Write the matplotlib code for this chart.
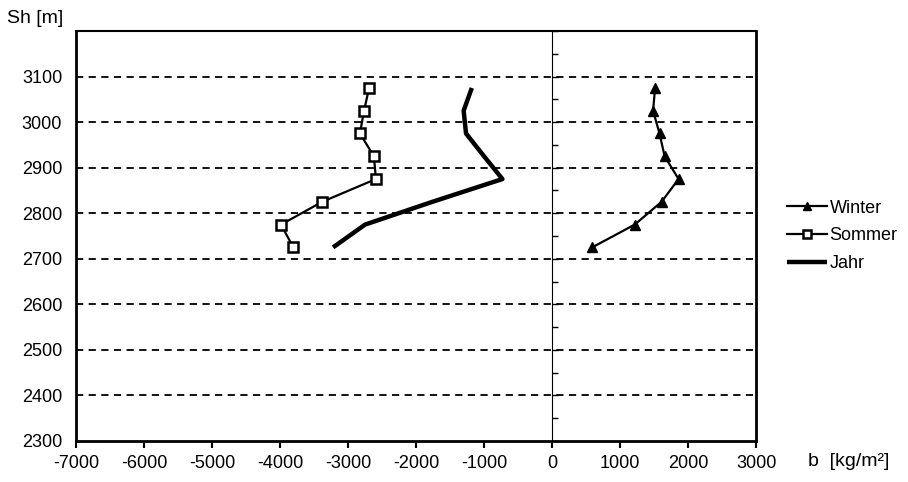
import numpy as np
import matplotlib
matplotlib.use("Agg")
import matplotlib.pyplot as plt
from matplotlib.ticker import MultipleLocator, NullFormatter

plt.rcParams['font.family'] = ['Liberation Sans', 'DejaVu Sans']
plt.rcParams['axes.unicode_minus'] = False

# Hoehenstufen (Mitte der 50-m-Stufen)
hoehe   = [3075, 3025, 2975, 2925, 2875, 2825, 2775, 2725]
winter  = [1515, 1485, 1580, 1655, 1860, 1610, 1215, 590]
sommer  = [-2690, -2765, -2825, -2620, -2590, -3380, -3985, -3805]
jahr    = [-1180, -1300, -1265, -1000, -730, -1760, -2750, -3220]

xticks = [-7000, -6000, -5000, -4000, -3000, -2000, -1000, 0, 1000, 2000, 3000]
yticks = [2300, 2400, 2500, 2600, 2700, 2800, 2900, 3000, 3100]

fig = plt.figure(figsize=(9.08, 4.82), dpi=100)
ax = fig.add_axes([0.0837, 0.0851, 0.749, 0.8506])

ax.set_xlim(-7000, 3000)
ax.set_ylim(2300, 3200)

# gestrichelte Gitterlinien
for y in yticks[1:]:
    ax.axhline(y, color='black', lw=1.3, ls=(0, (4, 3)), zorder=1)

ax.plot(winter, hoehe, color='black', lw=1.6, marker='^', ms=7.5,
        mfc='black', mec='black', label='Winter', zorder=3)
ax.plot(sommer, hoehe, color='black', lw=1.6, marker='s', ms=6.5,
        mfc='white', mec='black', mew=1.8, label='Sommer', zorder=3)
ax.plot(jahr, hoehe, color='black', lw=3.2, solid_capstyle='butt', label='Jahr', zorder=3)

ax.set_xticks(xticks)
ax.set_yticks(yticks)
ax.tick_params(axis='x', direction='out', length=5, width=1.5, labelsize=13, pad=5)
ax.tick_params(axis='y', length=0, labelsize=13, pad=10)
for s in ax.spines.values():
    s.set_linewidth(2)
ax.spines['top'].set_linewidth(1.5)

# y-Achse kreuzt bei b = 0
sec = ax.secondary_yaxis(0.7)
sec.spines['left'].set_linewidth(1)
sec.yaxis.set_major_locator(MultipleLocator(100))
sec.yaxis.set_minor_locator(MultipleLocator(50))
sec.yaxis.set_major_formatter(NullFormatter())
sec.yaxis.set_minor_formatter(NullFormatter())
sec.tick_params(which='both', direction='out', length=4, width=1)

fig.text(0.008, 0.962, 'Sh [m]', fontsize=14, ha='left', va='center')
fig.text(0.89, 0.042, 'b  [kg/m²]', fontsize=14, ha='left', va='center')

ax.legend(loc='center left', bbox_to_anchor=(1.035, 0.5), frameon=False,
          fontsize=13, handlelength=2.2, handletextpad=0.15, labelspacing=0.6,
          borderaxespad=0, markerscale=0.8)

fig.savefig('out.png', dpi=100)
